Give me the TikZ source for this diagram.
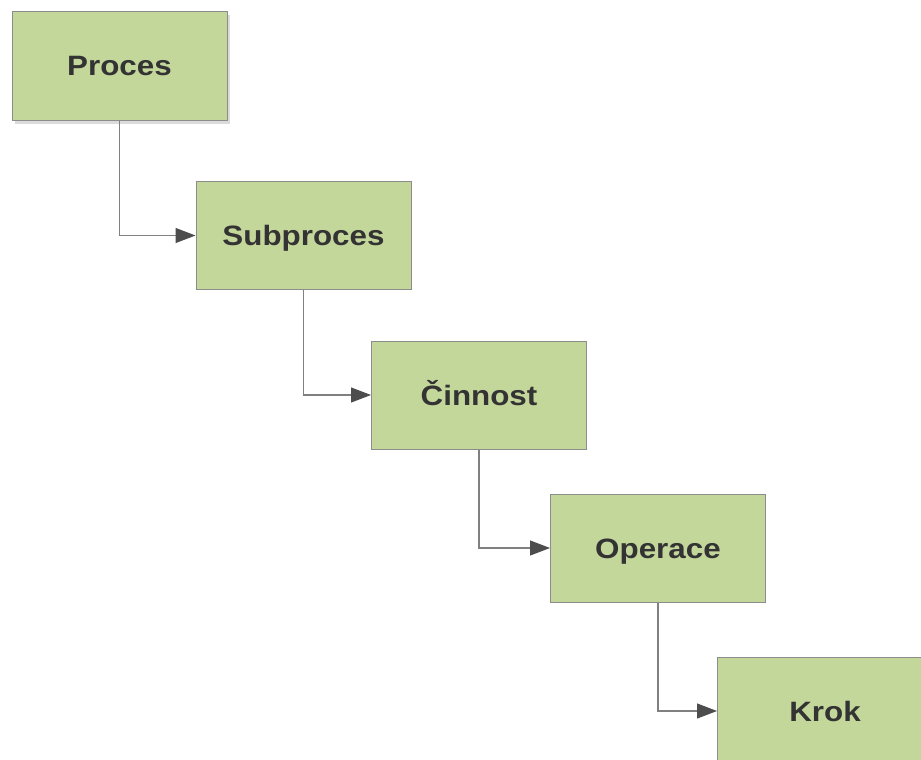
\documentclass[tikz,border=0pt]{standalone}
\usepackage{fontspec}
\setmainfont[FakeStretch=1.12]{Liberation Sans}
\usetikzlibrary{arrows.meta}
\definecolor{boxfill}{HTML}{C4D79B}
\definecolor{boxline}{HTML}{8C8C8C}
\definecolor{linkline}{HTML}{808080}
\definecolor{tipcol}{HTML}{4D4D4D}
\definecolor{txt}{HTML}{333333}
\tikzset{
  stage/.style={draw=boxline, line width=1pt, fill=boxfill,
    minimum width=215pt, minimum height=108pt, inner sep=0pt,
    text height=20pt, text depth=0pt,
    text=txt, font=\bfseries\fontsize{28}{32}\selectfont},
  link/.style={draw=linkline, line width=1.1pt,
    -{Triangle[length=20pt,width=15pt,fill=tipcol,color=tipcol]}}
}
\begin{document}
\begin{tikzpicture}[x=1pt,y=-1pt]
  \useasboundingbox (0,0) rectangle (921,760);
  \clip (0,0) rectangle (921,760);
  % soft shadow under the top box
  \fill[black!35, opacity=0.4] (15,15) rectangle (229.5,123.5);
  \node[stage] (proces)    at (119.5,66)  {Proces};
  \node[stage] (subproces) at (303.5,235.5) {Subproces};
  \node[stage] (cinnost)   at (479,395) {Činnost};
  \node[stage] (operace)   at (658,548) {Operace};
  \node[stage] (krok)      at (825,711) {Krok};
  \draw[link] (proces.south)    |- (subproces.west);
  \draw[link] (subproces.south) |- (cinnost.west);
  \draw[link] (cinnost.south)   |- (operace.west);
  \draw[link] (operace.south)   |- (krok.west);
\end{tikzpicture}
\end{document}
